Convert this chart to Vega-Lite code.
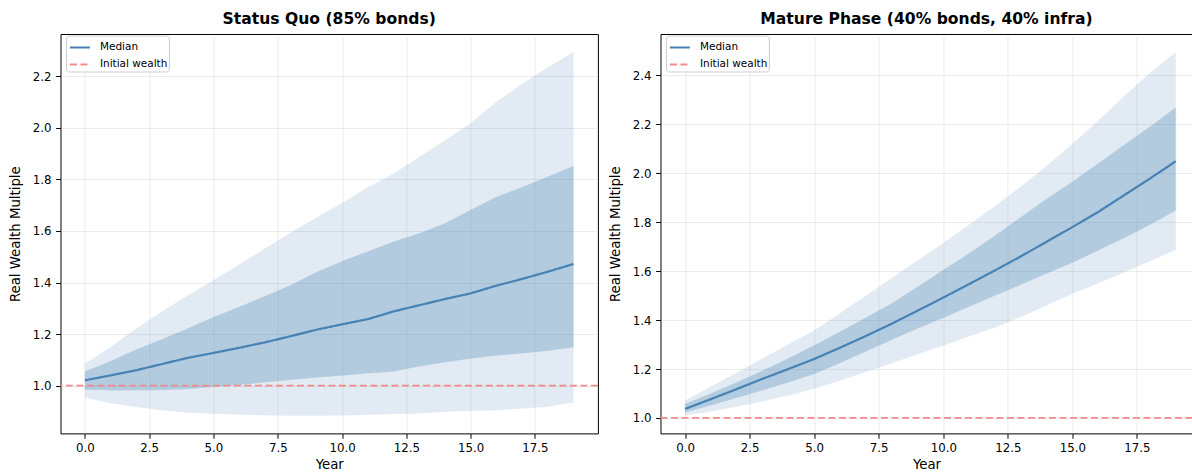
{
  "$schema": "https://vega.github.io/schema/vega-lite/v6.json",
  "background": "white",
  "padding": {"left": 7.5, "top": 11, "right": 0, "bottom": 0},
  "spacing": 8,
  "datasets": {
    "sq": [
      {"year": 0, "lo": 0.954, "qlo": 0.985, "med": 1.021, "qhi": 1.055, "hi": 1.085},
      {"year": 1, "lo": 0.932, "qlo": 0.982, "med": 1.040, "qhi": 1.095, "hi": 1.150},
      {"year": 2, "lo": 0.917, "qlo": 0.982, "med": 1.060, "qhi": 1.140, "hi": 1.222},
      {"year": 3, "lo": 0.905, "qlo": 0.983, "med": 1.084, "qhi": 1.180, "hi": 1.288},
      {"year": 4, "lo": 0.895, "qlo": 0.987, "med": 1.108, "qhi": 1.222, "hi": 1.350},
      {"year": 5, "lo": 0.891, "qlo": 0.996, "med": 1.127, "qhi": 1.265, "hi": 1.409},
      {"year": 6, "lo": 0.888, "qlo": 1.004, "med": 1.147, "qhi": 1.305, "hi": 1.470},
      {"year": 7, "lo": 0.885, "qlo": 1.013, "med": 1.168, "qhi": 1.347, "hi": 1.532},
      {"year": 8, "lo": 0.883, "qlo": 1.023, "med": 1.192, "qhi": 1.390, "hi": 1.593},
      {"year": 9, "lo": 0.883, "qlo": 1.032, "med": 1.217, "qhi": 1.440, "hi": 1.652},
      {"year": 10, "lo": 0.884, "qlo": 1.040, "med": 1.238, "qhi": 1.483, "hi": 1.708},
      {"year": 11, "lo": 0.887, "qlo": 1.048, "med": 1.258, "qhi": 1.520, "hi": 1.770},
      {"year": 12, "lo": 0.890, "qlo": 1.055, "med": 1.288, "qhi": 1.558, "hi": 1.822},
      {"year": 13, "lo": 0.892, "qlo": 1.075, "med": 1.312, "qhi": 1.590, "hi": 1.887},
      {"year": 14, "lo": 0.899, "qlo": 1.091, "med": 1.336, "qhi": 1.629, "hi": 1.951},
      {"year": 15, "lo": 0.903, "qlo": 1.105, "med": 1.358, "qhi": 1.681, "hi": 2.018},
      {"year": 16, "lo": 0.905, "qlo": 1.117, "med": 1.388, "qhi": 1.732, "hi": 2.100},
      {"year": 17, "lo": 0.912, "qlo": 1.126, "med": 1.414, "qhi": 1.770, "hi": 2.170},
      {"year": 18, "lo": 0.918, "qlo": 1.136, "med": 1.442, "qhi": 1.810, "hi": 2.235},
      {"year": 19, "lo": 0.935, "qlo": 1.149, "med": 1.472, "qhi": 1.851, "hi": 2.293}
    ],
    "mp": [
      {"year": 0, "lo": 1.010, "qlo": 1.023, "med": 1.037, "qhi": 1.057, "hi": 1.071},
      {"year": 1, "lo": 1.027, "qlo": 1.052, "med": 1.077, "qhi": 1.100, "hi": 1.128},
      {"year": 2, "lo": 1.046, "qlo": 1.083, "med": 1.118, "qhi": 1.145, "hi": 1.185},
      {"year": 3, "lo": 1.068, "qlo": 1.113, "med": 1.160, "qhi": 1.193, "hi": 1.243},
      {"year": 4, "lo": 1.092, "qlo": 1.146, "med": 1.200, "qhi": 1.243, "hi": 1.300},
      {"year": 5, "lo": 1.119, "qlo": 1.180, "med": 1.241, "qhi": 1.296, "hi": 1.357},
      {"year": 6, "lo": 1.153, "qlo": 1.225, "med": 1.287, "qhi": 1.352, "hi": 1.428},
      {"year": 7, "lo": 1.188, "qlo": 1.272, "med": 1.335, "qhi": 1.410, "hi": 1.499},
      {"year": 8, "lo": 1.224, "qlo": 1.320, "med": 1.385, "qhi": 1.468, "hi": 1.571},
      {"year": 9, "lo": 1.260, "qlo": 1.366, "med": 1.438, "qhi": 1.535, "hi": 1.643},
      {"year": 10, "lo": 1.296, "qlo": 1.410, "med": 1.492, "qhi": 1.605, "hi": 1.715},
      {"year": 11, "lo": 1.334, "qlo": 1.455, "med": 1.547, "qhi": 1.672, "hi": 1.790},
      {"year": 12, "lo": 1.370, "qlo": 1.500, "med": 1.603, "qhi": 1.745, "hi": 1.865},
      {"year": 13, "lo": 1.413, "qlo": 1.545, "med": 1.660, "qhi": 1.820, "hi": 1.945},
      {"year": 14, "lo": 1.460, "qlo": 1.590, "med": 1.720, "qhi": 1.895, "hi": 2.030},
      {"year": 15, "lo": 1.508, "qlo": 1.635, "med": 1.780, "qhi": 1.965, "hi": 2.120},
      {"year": 16, "lo": 1.550, "qlo": 1.685, "med": 1.842, "qhi": 2.040, "hi": 2.215},
      {"year": 17, "lo": 1.595, "qlo": 1.735, "med": 1.910, "qhi": 2.115, "hi": 2.315},
      {"year": 18, "lo": 1.640, "qlo": 1.790, "med": 1.978, "qhi": 2.190, "hi": 2.410},
      {"year": 19, "lo": 1.687, "qlo": 1.848, "med": 2.049, "qhi": 2.268, "hi": 2.494}
    ],
    "init": [{"initial": 1.0}]
  },
  "hconcat": [
    {
      "width": 537.4,
      "height": 399.4,
      "title": "Status Quo (85% bonds)",
      "encoding": {
        "x": {"field": "year", "type": "quantitative", "scale": {"domain": [-0.95, 19.95], "nice": false, "zero": false},
              "axis": {"values": [0, 2.5, 5, 7.5, 10, 12.5, 15, 17.5], "format": ".1f", "title": "Year"}}
      },
      "layer": [
        {"data": {"name": "sq"}, "mark": {"type": "area", "color": "#4682b4", "opacity": 0.15, "stroke": "#4682b4", "strokeOpacity": 0.12, "strokeWidth": 1},
         "encoding": {"y": {"field": "lo", "type": "quantitative", "scale": {"domain": [0.815, 2.364], "nice": false, "zero": false},
                            "axis": {"values": [1.0, 1.2, 1.4, 1.6, 1.8, 2.0, 2.2], "format": ".1f", "title": "Real Wealth Multiple"}},
                      "y2": {"field": "hi"}}},
        {"data": {"name": "sq"}, "mark": {"type": "area", "color": "#4682b4", "opacity": 0.3, "stroke": "#4682b4", "strokeOpacity": 0.2, "strokeWidth": 1},
         "encoding": {"y": {"field": "qlo", "type": "quantitative"}, "y2": {"field": "qhi"}}},
        {"data": {"name": "sq"}, "mark": {"type": "line", "strokeWidth": 2.2},
         "encoding": {"y": {"field": "med", "type": "quantitative"},
                      "color": {"datum": "Median", "scale": {"domain": ["Median", "Initial wealth"], "range": ["#4682b4", "#f28a8a"]}, "legend": {"title": null}},
                      "strokeDash": {"datum": "Median", "scale": {"domain": ["Median", "Initial wealth"], "range": [[1, 0], [7, 3.5]]}, "legend": {"title": null}}}},
        {"data": {"name": "init"}, "mark": {"type": "rule", "strokeWidth": 1.7},
         "encoding": {"x": null, "y": {"field": "initial", "type": "quantitative"},
                      "color": {"datum": "Initial wealth"},
                      "strokeDash": {"datum": "Initial wealth"}}}
      ]
    },
    {
      "width": 532,
      "height": 399.4,
      "title": "Mature Phase (40% bonds, 40% infra)",
      "encoding": {
        "x": {"field": "year", "type": "quantitative", "scale": {"domain": [-0.95, 19.65], "nice": false, "zero": false},
              "axis": {"values": [0, 2.5, 5, 7.5, 10, 12.5, 15, 17.5], "format": ".1f", "title": "Year"}}
      },
      "layer": [
        {"data": {"name": "mp"}, "mark": {"type": "area", "color": "#4682b4", "opacity": 0.15, "stroke": "#4682b4", "strokeOpacity": 0.12, "strokeWidth": 1},
         "encoding": {"y": {"field": "lo", "type": "quantitative", "scale": {"domain": [0.937, 2.569], "nice": false, "zero": false},
                            "axis": {"values": [1.0, 1.2, 1.4, 1.6, 1.8, 2.0, 2.2, 2.4], "format": ".1f", "title": "Real Wealth Multiple"}},
                      "y2": {"field": "hi"}}},
        {"data": {"name": "mp"}, "mark": {"type": "area", "color": "#4682b4", "opacity": 0.3, "stroke": "#4682b4", "strokeOpacity": 0.2, "strokeWidth": 1},
         "encoding": {"y": {"field": "qlo", "type": "quantitative"}, "y2": {"field": "qhi"}}},
        {"data": {"name": "mp"}, "mark": {"type": "line", "strokeWidth": 2.2},
         "encoding": {"y": {"field": "med", "type": "quantitative"},
                      "color": {"datum": "Median", "scale": {"domain": ["Median", "Initial wealth"], "range": ["#4682b4", "#f28a8a"]}, "legend": {"title": null}},
                      "strokeDash": {"datum": "Median", "scale": {"domain": ["Median", "Initial wealth"], "range": [[1, 0], [7, 3.5]]}, "legend": {"title": null}}}},
        {"data": {"name": "init"}, "mark": {"type": "rule", "strokeWidth": 1.7},
         "encoding": {"x": null, "y": {"field": "initial", "type": "quantitative"},
                      "color": {"datum": "Initial wealth"},
                      "strokeDash": {"datum": "Initial wealth"}}}
      ]
    }
  ],
  "resolve": {"scale": {"color": "independent", "strokeDash": "independent", "x": "independent", "y": "independent"}},
  "config": {
    "font": "DejaVu Sans",
    "view": {"stroke": "#000000", "strokeWidth": 1},
    "axis": {"domain": false, "grid": true, "gridColor": "#b0b0b0", "gridOpacity": 0.3, "gridWidth": 0.8,
             "tickColor": "#000000", "tickSize": 4.9, "tickWidth": 1, "labelFont": "DejaVu Sans", "labelFontSize": 11.8, "labelColor": "#000000",
             "labelPadding": 4.5, "titleFont": "DejaVu Sans", "titleFontSize": 13.3, "titleFontWeight": "normal", "titleColor": "#000000", "zindex": 1},
    "axisY": {"titlePadding": 10},
    "axisX": {"titlePadding": 3},
    "title": {"font": "DejaVu Sans", "fontSize": 15.6, "fontWeight": "bold", "color": "#000000", "offset": 6},
    "legend": {"orient": "none", "legendX": 5.4, "legendY": 1.5, "padding": 1, "strokeColor": "#cccccc", "fillColor": "#ffffff", "cornerRadius": 3,
               "labelFont": "DejaVu Sans", "labelFontSize": 10.5, "labelColor": "#000000", "symbolType": "stroke", "symbolSize": 400,
               "symbolStrokeWidth": 2, "rowPadding": -6, "labelOffset": 9, "symbolOffset": 2}
  }
}
